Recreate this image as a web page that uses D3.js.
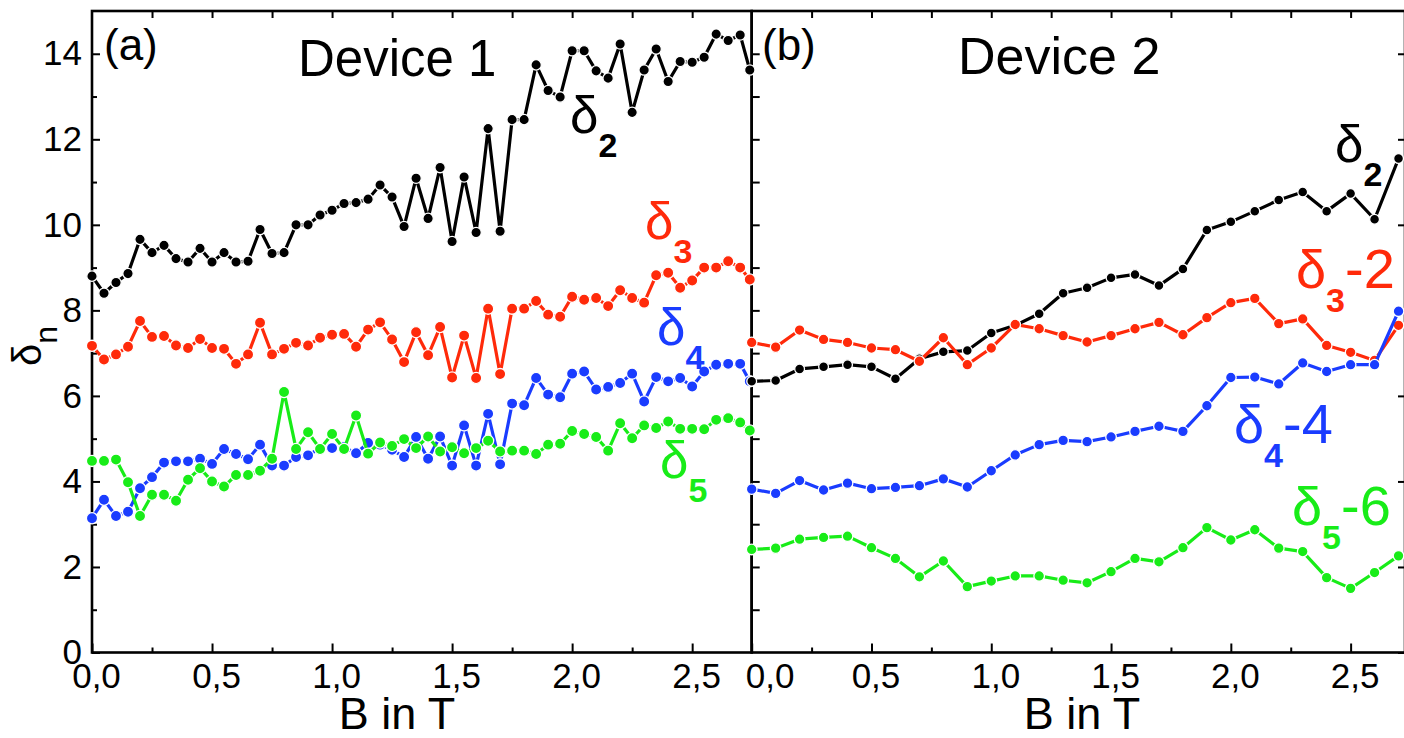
<!DOCTYPE html>
<html>
<head>
<meta charset="utf-8">
<script src="https://cdn.jsdelivr.net/npm/d3@7"></script>
<style>
  html, body { margin: 0; padding: 0; background: #fff; }
  svg { display: block; }
</style>
</head>
<body>
<svg id="chart" width="1404" height="738"></svg>
<script>
// ---- data ----
// Device 1: B in T (0.05 T steps)
const bLeft = [0.00, 0.05, 0.10, 0.15, 0.20, 0.25, 0.30, 0.35, 0.40, 0.45,
  0.50, 0.55, 0.60, 0.65, 0.70, 0.75, 0.80, 0.85, 0.90, 0.95,
  1.00, 1.05, 1.10, 1.15, 1.20, 1.25, 1.30, 1.35, 1.40, 1.45,
  1.50, 1.55, 1.60, 1.65, 1.70, 1.75, 1.80, 1.85, 1.90, 1.95,
  2.00, 2.05, 2.10, 2.15, 2.20, 2.25, 2.30, 2.35, 2.40, 2.45,
  2.50, 2.55, 2.60, 2.65, 2.70, 2.74];
const d2Left = [8.80, 8.40, 8.65, 8.86, 9.66, 9.35, 9.52, 9.21, 9.13, 9.45,
  9.13, 9.35, 9.13, 9.15, 9.89, 9.33, 9.35, 10.00, 10.00, 10.23,
  10.34, 10.50, 10.52, 10.60, 10.93, 10.65, 9.96, 11.09, 10.15, 11.34,
  9.61, 11.12, 9.82, 12.25, 9.85, 12.46, 12.46, 13.74, 13.14, 12.99,
  14.07, 14.07, 13.60, 13.43, 14.23, 12.63, 13.62, 14.11, 13.35, 13.82,
  13.80, 13.92, 14.46, 14.31, 14.44, 13.62];
const d3Left = [7.17, 6.85, 6.97, 7.15, 7.75, 7.38, 7.40, 7.18, 7.12, 7.33,
  7.12, 7.10, 6.75, 6.97, 7.71, 6.97, 7.10, 7.24, 7.18, 7.36,
  7.43, 7.45, 7.15, 7.55, 7.72, 7.32, 6.79, 7.49, 6.95, 7.61,
  6.43, 7.41, 6.42, 8.04, 6.51, 8.04, 8.04, 8.22, 7.90, 7.85,
  8.32, 8.25, 8.29, 8.10, 8.47, 8.29, 8.18, 8.82, 8.88, 8.53,
  8.70, 9.00, 9.00, 9.15, 9.00, 8.72];
const d4Left = [3.14, 3.57, 3.19, 3.29, 3.84, 4.10, 4.44, 4.47, 4.47, 4.53,
  4.41, 4.76, 4.64, 4.52, 4.86, 4.37, 4.37, 4.57, 4.61, 4.78,
  4.78, 4.80, 4.66, 4.90, 4.86, 4.74, 4.57, 5.04, 4.53, 5.05,
  4.37, 5.31, 4.37, 5.58, 4.40, 5.82, 5.78, 6.42, 6.03, 5.97,
  6.52, 6.57, 6.15, 6.21, 6.30, 6.52, 5.87, 6.44, 6.34, 6.42,
  6.22, 6.57, 6.73, 6.75, 6.75, 6.34];
const d5Left = [4.48, 4.48, 4.51, 3.98, 3.19, 3.69, 3.69, 3.55, 4.04, 4.31,
  4.00, 3.88, 4.15, 4.15, 4.25, 4.53, 6.09, 4.76, 5.15, 4.76,
  5.11, 4.76, 5.54, 4.65, 4.91, 4.83, 4.99, 4.78, 5.05, 4.70,
  4.80, 4.66, 4.78, 4.95, 4.70, 4.72, 4.72, 4.64, 4.86, 4.88,
  5.18, 5.11, 5.04, 4.72, 5.36, 5.01, 5.31, 5.25, 5.40, 5.23,
  5.23, 5.22, 5.44, 5.48, 5.38, 5.19];

// Device 2: B in T (0.1 T steps), curves shifted as labelled
const bRight = [0.0, 0.1, 0.2, 0.3, 0.4, 0.5, 0.6, 0.7, 0.8, 0.9,
  1.0, 1.1, 1.2, 1.3, 1.4, 1.5, 1.6, 1.7, 1.8, 1.9,
  2.0, 2.1, 2.2, 2.3, 2.4, 2.5, 2.6, 2.7];
const d2Right = [6.34, 6.36, 6.63, 6.68, 6.73, 6.68, 6.40, 6.87, 7.03, 7.06,
  7.47, 7.65, 7.92, 8.40, 8.53, 8.76, 8.84, 8.58, 8.97, 9.88,
  10.07, 10.32, 10.58, 10.77, 10.32, 10.73, 10.13, 11.55];
const d3Right = [7.25, 7.14, 7.54, 7.32, 7.25, 7.12, 7.08, 6.81, 7.36, 6.73,
  7.12, 7.67, 7.57, 7.41, 7.26, 7.41, 7.57, 7.72, 7.43, 7.83,
  8.18, 8.28, 7.69, 7.80, 7.18, 7.02, 6.83, 7.65];
const d4Right = [3.82, 3.72, 4.02, 3.80, 3.96, 3.83, 3.86, 3.90, 4.06, 3.87,
  4.25, 4.62, 4.86, 4.96, 4.93, 5.04, 5.17, 5.29, 5.17, 5.77,
  6.43, 6.44, 6.28, 6.77, 6.57, 6.73, 6.73, 7.98];
const d5Right = [2.41, 2.44, 2.65, 2.69, 2.72, 2.45, 2.20, 1.77, 2.14, 1.54,
  1.67, 1.79, 1.79, 1.69, 1.63, 1.89, 2.20, 2.12, 2.45, 2.92,
  2.63, 2.87, 2.44, 2.36, 1.75, 1.50, 1.87, 2.26];

// ticks
const yMajor = [0, 2, 4, 6, 8, 10, 12, 14];
const yMinor = [1, 3, 5, 7, 9, 11, 13];
const xMajor = [0, 0.5, 1.0, 1.5, 2.0, 2.5];
const xMinor = [0.25, 0.75, 1.25, 1.75, 2.25];
const xTop = [0.25, 0.5, 0.75, 1.0, 1.25, 1.5, 1.75, 2.0, 2.25, 2.5];

// ---- drawing ----
const FONT = '"Liberation Sans", Arial, Helvetica, sans-serif';
const BLACK = '#000000', RED = '#ff2a0a', BLUE = '#1a3cff', GREEN = '#18ec18';

const svg = d3.select('#chart');
const plotTop = 11, plotBottom = 652.5;
const y = d3.scaleLinear().domain([0, 15]).range([plotBottom, plotTop]);
const xL = d3.scaleLinear().domain([0, 2.748]).range([92, 751.7]);
const xR = d3.scaleLinear().domain([0, 2.727]).range([751.7, 1405]);

const fmt = d => d3.format('.1f')(d).replace('.', ',');

function tidy(g) {
  g.attr('font-family', FONT).attr('font-size', 35);
  g.select('.domain').remove();
  g.selectAll('line').attr('stroke', '#000').attr('stroke-width', 2);
  g.selectAll('text').attr('fill', '#000');
  return g;
}

function drawSeries(x, b, v, color, r) {
  const g = svg.append('g');
  const line = d3.line().x((d, i) => x(b[i])).y(d => y(d));
  g.append('path')
    .datum(v)
    .attr('d', line)
    .attr('fill', 'none')
    .attr('stroke', color)
    .attr('stroke-width', 3.2)
    .attr('stroke-linejoin', 'round');
  g.selectAll('circle')
    .data(v)
    .join('circle')
    .attr('cx', (d, i) => x(b[i]))
    .attr('cy', d => y(d))
    .attr('r', r)
    .attr('fill', color)
    .attr('stroke', '#fff')
    .attr('stroke-width', 1.3);
}

// axes - left panel
tidy(svg.append('g').attr('transform', `translate(0,${plotBottom})`)
  .call(d3.axisBottom(xL).tickValues(xMajor).tickSize(-9).tickPadding(11).tickFormat(fmt)))
  .selectAll('text').attr('dx', 4);
tidy(svg.append('g').attr('transform', `translate(0,${plotBottom})`)
  .call(d3.axisBottom(xL).tickValues(xMinor).tickSize(-5).tickFormat('')));
tidy(svg.append('g').attr('transform', `translate(0,${plotTop})`)
  .call(d3.axisTop(xL).tickValues(xTop).tickSize(-7).tickFormat('')));
tidy(svg.append('g').attr('transform', `translate(${xL(0)},0)`)
  .call(d3.axisLeft(y).tickValues(yMajor).tickSize(-8).tickPadding(10)));
tidy(svg.append('g').attr('transform', `translate(${xL(0)},0)`)
  .call(d3.axisLeft(y).tickValues(yMinor).tickSize(-5).tickFormat('')));

// axes - right panel
const rb = tidy(svg.append('g').attr('transform', `translate(0,${plotBottom})`)
  .call(d3.axisBottom(xR).tickValues(xMajor).tickSize(-9).tickPadding(11).tickFormat(fmt)));
rb.selectAll('text').attr('dx', d => d === 0 ? 18 : 4);
tidy(svg.append('g').attr('transform', `translate(0,${plotBottom})`)
  .call(d3.axisBottom(xR).tickValues(xMinor).tickSize(-5).tickFormat('')));
tidy(svg.append('g').attr('transform', `translate(0,${plotTop})`)
  .call(d3.axisTop(xR).tickValues(xTop).tickSize(-7).tickFormat('')));
tidy(svg.append('g').attr('transform', `translate(${xR(0)},0)`)
  .call(d3.axisLeft(y).tickValues(yMajor.concat(yMinor).filter(d => d > 0)).tickSize(-8).tickFormat('')));
tidy(svg.append('g').attr('transform', `translate(${xR.range()[1]},0)`)
  .call(d3.axisRight(y).tickValues(yMajor).tickSize(-7).tickFormat('')));

// frames
[xL, xR].forEach(x => {
  const [x0, x1] = x.range();
  svg.append('rect')
    .attr('x', x0).attr('y', plotTop)
    .attr('width', x1 - x0).attr('height', plotBottom - plotTop)
    .attr('fill', 'none').attr('stroke', '#000').attr('stroke-width', 2.6);
});

// series
drawSeries(xL, bLeft, d2Left, BLACK, 5.2);
drawSeries(xL, bLeft, d3Left, RED, 5.6);
drawSeries(xL, bLeft, d4Left, BLUE, 5.6);
drawSeries(xL, bLeft, d5Left, GREEN, 5.6);
drawSeries(xR, bRight, d2Right, BLACK, 4.9);
drawSeries(xR, bRight, d3Right, RED, 5.3);
drawSeries(xR, bRight, d4Right, BLUE, 5.3);
drawSeries(xR, bRight, d5Right, GREEN, 5.3);

// texts
function txt(x, yb, s, size, color) {
  return svg.append('text').attr('x', x).attr('y', yb)
    .attr('font-family', FONT).attr('font-size', size)
    .attr('fill', color || '#000').text(s);
}
function delta(x, yb, sub, suffix, color, size) {
  const t = svg.append('text').attr('x', x).attr('y', yb)
    .attr('font-family', FONT).attr('font-size', size).attr('fill', color);
  t.append('tspan').text('δ');
  t.append('tspan').attr('dy', 24).attr('font-size', 34).attr('font-weight', 'bold').text(sub);
  if (suffix) t.append('tspan').attr('dy', -24).attr('font-size', 56).text(suffix);
}

txt(104, 60, '(a)', 44);
txt(298, 76, 'Device 1', 51);
txt(762, 60, '(b)', 44);
txt(958, 74, 'Device 2', 52);

delta(570, 133, '2', '', BLACK, 51);
delta(645, 239, '3', '', RED, 51);
delta(657, 345, '4', '', BLUE, 51);
delta(660, 478, '5', '', GREEN, 51);

delta(1335, 162, '2', '', BLACK, 51);
delta(1296, 288, '3', '-2', RED, 54);
delta(1234, 443, '4', '-4', BLUE, 54);
delta(1292, 525, '5', '-6', GREEN, 54);

// axis titles
txt(397, 729, 'B in T', 45).attr('text-anchor', 'middle');
txt(1082, 729, 'B in T', 45).attr('text-anchor', 'middle');
const yl = svg.append('text')
  .attr('transform', 'translate(41,366) rotate(-90)')
  .attr('font-family', FONT).attr('font-size', 40).attr('fill', '#000');
yl.append('tspan').text('δ');
yl.append('tspan').attr('dy', 16).attr('font-size', 32).text('n');
</script>
</body>
</html>
